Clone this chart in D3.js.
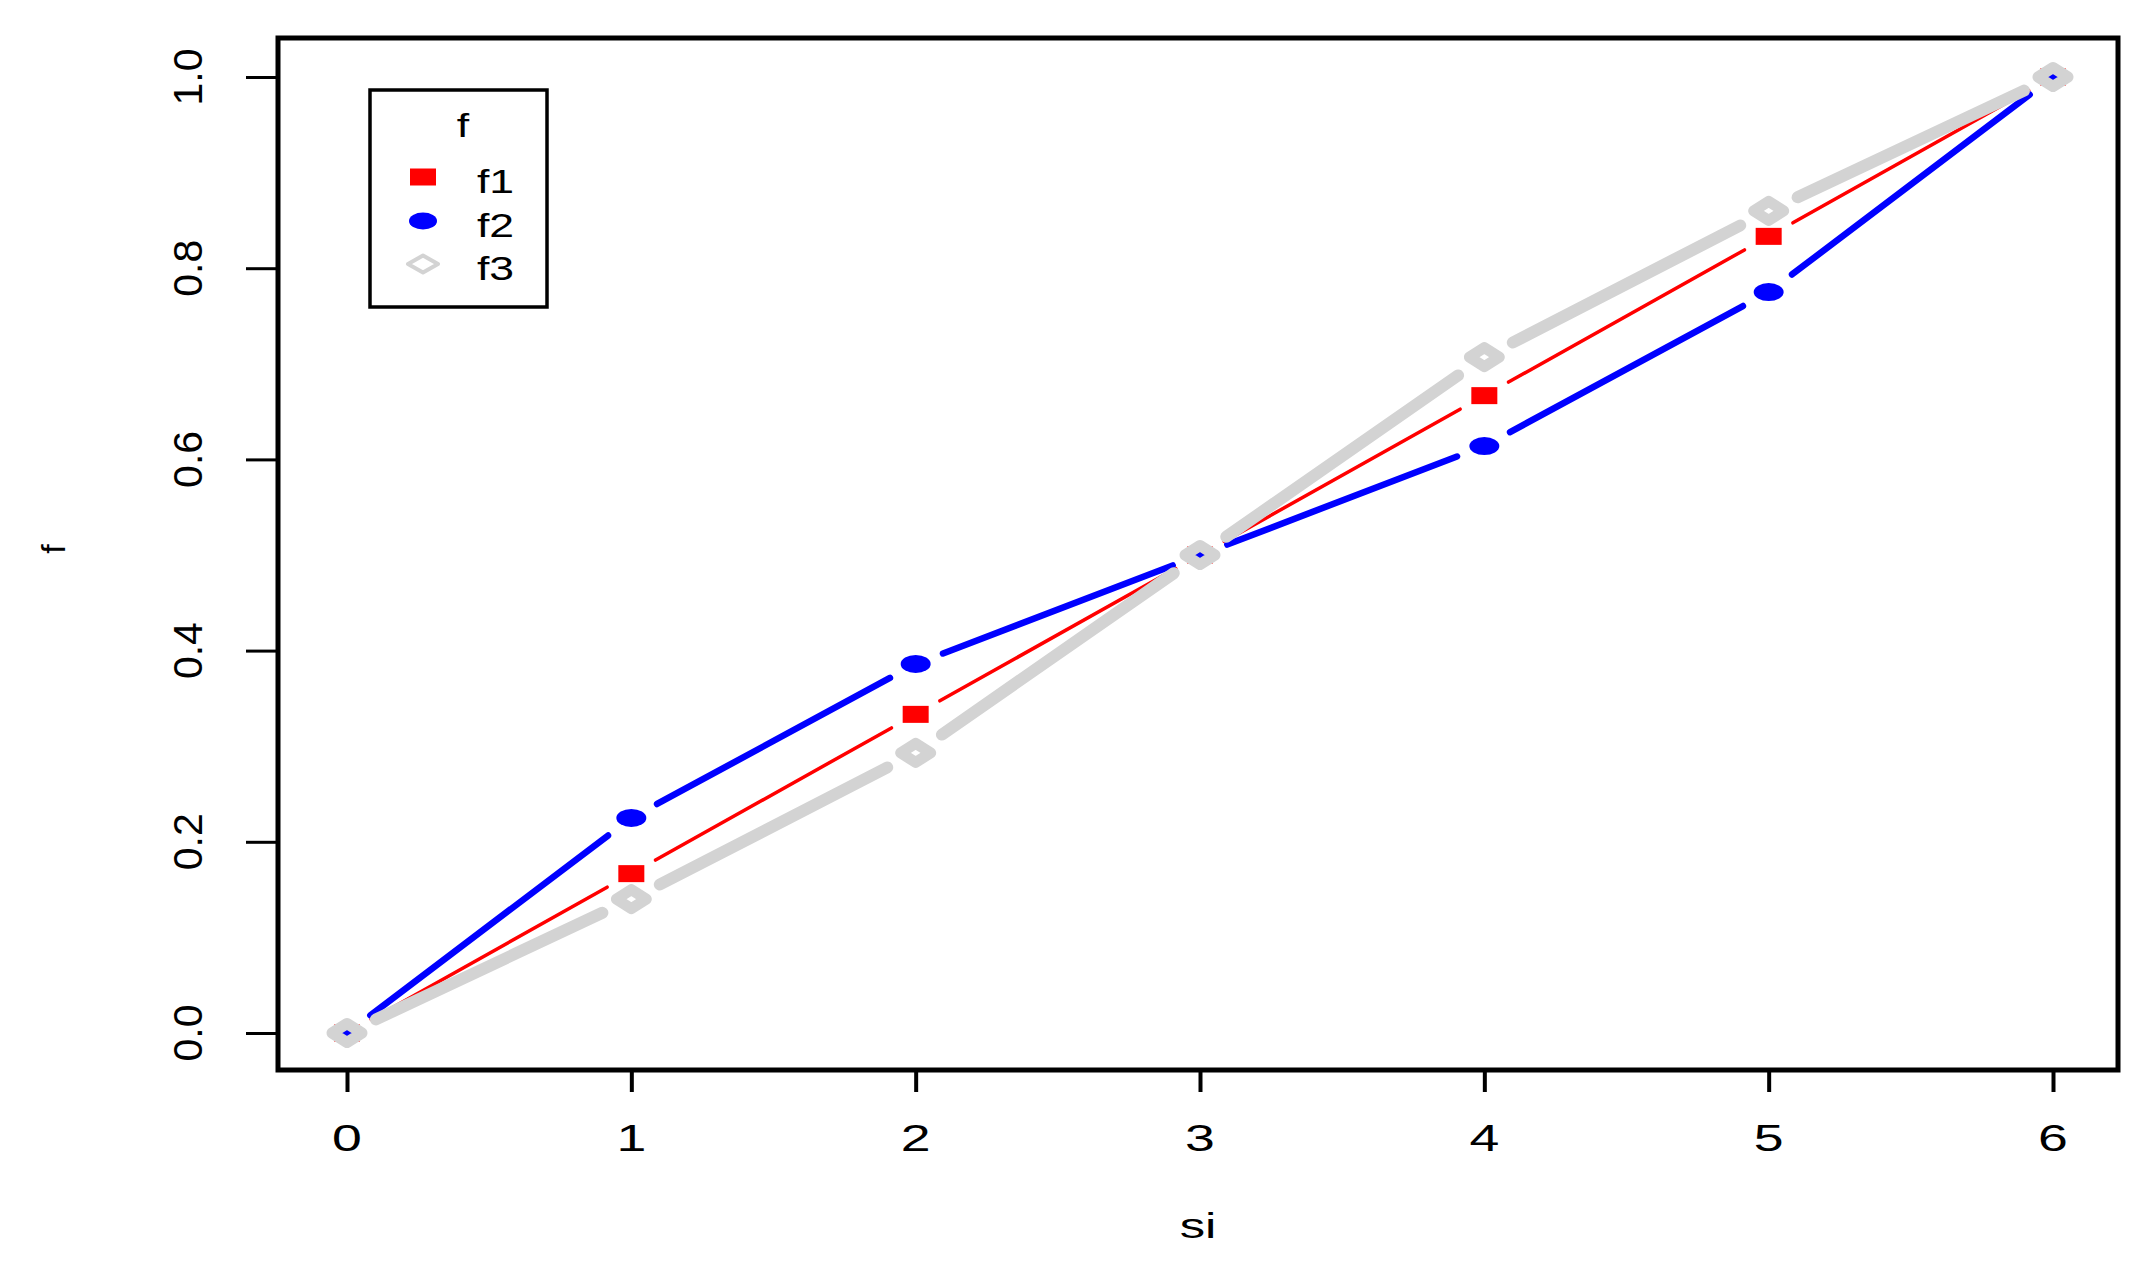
<!DOCTYPE html>
<html><head><meta charset="utf-8">
<script src="https://cdn.jsdelivr.net/npm/d3@7/dist/d3.min.js"></script>
<style>html,body{margin:0;padding:0;background:#fff;}svg{display:block;}text{font-family:"Liberation Sans",Arial,sans-serif;fill:#000;}</style>
</head><body>
<script>
const si = [0, 1, 2, 3, 4, 5, 6];
const f1 = [0, 0.1667, 0.3333, 0.5, 0.6667, 0.8333, 1];
const f2 = [0, 0.225, 0.386, 0.5, 0.614, 0.775, 1];
const f3 = [0, 0.140, 0.293, 0.5, 0.707, 0.860, 1];
const xTicks = [0, 1, 2, 3, 4, 5, 6];
const yTicks = [0, 0.2, 0.4, 0.6, 0.8, 1.0];
const yTickLabels = ["0.0", "0.2", "0.4", "0.6", "0.8", "1.0"];
const seriesNames = ["f1", "f2", "f3"];
const seriesColors = ["#ff0000", "#0000ff", "#d3d3d3"];

const W = 2150, H = 1273;
const box = {l: 278, r: 2118, t: 38, b: 1070};
const svg = d3.select("body").append("svg").attr("width", W).attr("height", H);
const x = d3.scaleLinear().domain([0, 6]).range([347, 2053]);
const y = d3.scaleLinear().domain([0, 1]).range([1033, 77]);
const SX = 1.45;

// series drawing (type "b": lines with gaps at points)
const widths = [3.5, 6.5, 12];
const gap = 26;
function drawSeries(vals, i) {
  const g = svg.append("g");
  const col = seriesColors[i], w = widths[i];
  const pts = si.map((s, k) => [x(s), y(vals[k])]);
  for (let k = 0; k < pts.length - 1; k++) {
    const [x0, y0] = pts[k], [x1, y1] = pts[k + 1];
    const dx = x1 - x0, dy = y1 - y0, L = Math.hypot(dx, dy);
    const d = gap + w / 2;
    if (L <= 2 * d) continue;
    const ux = dx / L, uy = dy / L;
    g.append("line").attr("x1", x0 + ux * d).attr("y1", y0 + uy * d)
      .attr("x2", x1 - ux * d).attr("y2", y1 - uy * d)
      .attr("stroke", col).attr("stroke-width", w).attr("stroke-linecap", "round");
  }
  pts.forEach(([px, py]) => marker(g, i, px, py, false));
}
function marker(g, i, px, py, legend) {
  const col = seriesColors[i];
  if (i === 0) {
    g.append("rect").attr("x", px - 13).attr("y", py - 8.5).attr("width", 26).attr("height", 17).attr("fill", col);
  } else if (i === 1) {
    g.append("ellipse").attr("cx", px).attr("cy", py).attr("rx", legend ? 14 : 15).attr("ry", legend ? 8.5 : 9).attr("fill", col);
  } else {
    const hw = legend ? 15 : 15, hh = legend ? 8.5 : 9.5;
    g.append("path").attr("d", `M${px - hw},${py}L${px},${py - hh}L${px + hw},${py}L${px},${py + hh}Z`)
      .attr("fill", "none").attr("stroke", col).attr("stroke-width", legend ? 4 : 11).attr("stroke-linejoin", "round");
  }
}
[f1, f2, f3].forEach((v, i) => drawSeries(v, i));

// box
svg.append("rect").attr("x", box.l).attr("y", box.t).attr("width", box.r - box.l).attr("height", box.b - box.t)
  .attr("fill", "none").attr("stroke", "#000").attr("stroke-width", 5);

// x axis
const xAxis = svg.append("g").attr("transform", `translate(0,${box.b})`)
  .call(d3.axisBottom(x).tickValues(xTicks).tickSize(22).tickFormat(""));
xAxis.select(".domain").remove();
xAxis.selectAll(".tick line").attr("stroke", "#000").attr("stroke-width", 4);
xTicks.forEach(t => {
  svg.append("text").attr("transform", `translate(${x(t)},1151) scale(${SX},1)`)
    .attr("text-anchor", "middle").attr("font-size", 37).text(String(t));
});

// y axis
const yAxis = svg.append("g").attr("transform", `translate(${box.l},0)`)
  .call(d3.axisLeft(y).tickValues(yTicks).tickSize(32).tickFormat(""));
yAxis.select(".domain").remove();
yAxis.selectAll(".tick line").attr("stroke", "#000").attr("stroke-width", 3);
yTicks.forEach((t, k) => {
  svg.append("text").attr("transform", `translate(202,${y(t)}) rotate(-90)`)
    .attr("text-anchor", "middle").attr("font-size", 41).text(yTickLabels[k]);
});

// axis titles
svg.append("text").attr("transform", `translate(1198,1238) scale(${SX},1)`)
  .attr("text-anchor", "middle").attr("font-size", 35).text("si");
svg.append("text").attr("transform", `translate(65,549) rotate(-90)`)
  .attr("text-anchor", "middle").attr("font-size", 34).text("f");

// legend
const lg = svg.append("g");
lg.append("rect").attr("x", 370).attr("y", 90).attr("width", 177).attr("height", 217)
  .attr("fill", "#fff").attr("stroke", "#000").attr("stroke-width", 3.5);
lg.append("text").attr("transform", `translate(463,137) scale(1.35,1)`).attr("text-anchor", "middle")
  .attr("font-size", 33).text("f");
const legY = [177, 221, 264];
seriesNames.forEach((n, i) => {
  marker(lg, i, 423, legY[i], true);
  lg.append("text").attr("transform", `translate(477,${legY[i] + 16}) scale(1.35,1)`)
    .attr("font-size", 33).text(n);
});
</script>
</body></html>
